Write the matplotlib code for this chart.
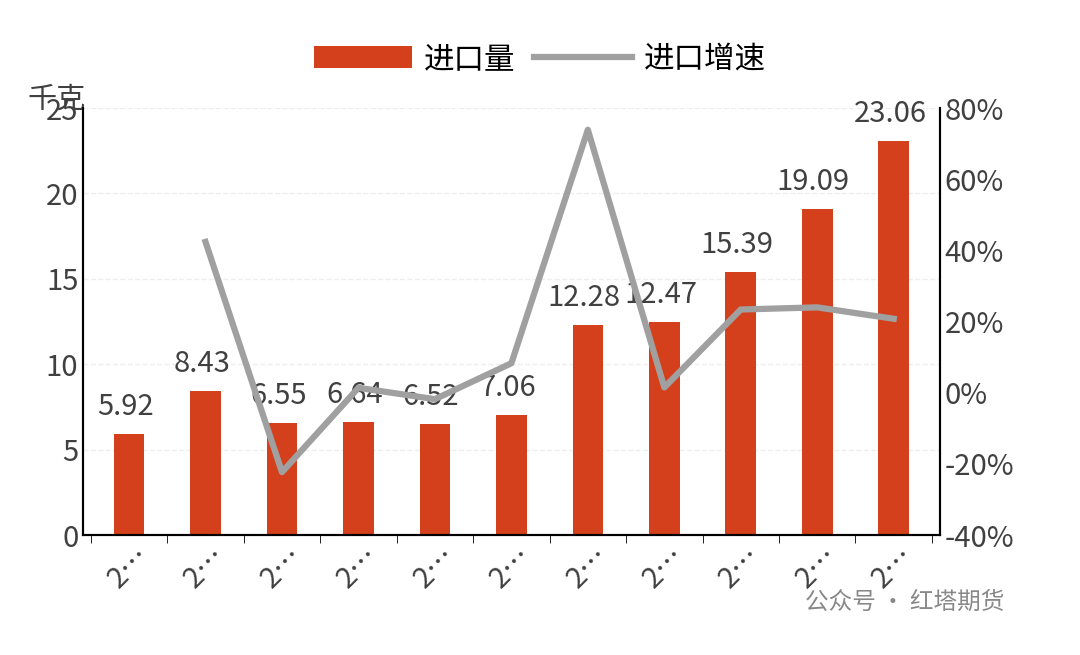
import matplotlib
matplotlib.use("Agg")
import matplotlib.pyplot as plt
from matplotlib.ticker import FuncFormatter

plt.rcParams['font.family'] = ['Noto Sans CJK SC', 'DejaVu Sans']

categories = ["2…"] * 11
imports = [5.92, 8.43, 6.55, 6.64, 6.52, 7.06, 12.28, 12.47, 15.39, 19.09, 23.06]
growth = [None, 42.4, -22.3, 1.4, -1.8, 8.3, 73.9, 1.5, 23.4, 24.0, 20.8]

fig = plt.figure(figsize=(10.8, 6.55), dpi=100)
ax = fig.add_axes([0.077, 0.183, 0.793, 0.652])
ax2 = ax.twinx()
x = list(range(len(imports)))
ax.bar(x, imports, width=0.4, color='#D5401C', label='进口量', zorder=2)
for xi, v in zip(x, imports):
    ax.text(xi - 0.05, v + 0.7, f"{v:.2f}", ha='center', va='bottom', fontsize=21,
            color='#404040', fontweight='light')
gx = [i for i, g in zip(x, growth) if g is not None]
gy = [g for g in growth if g is not None]
ax2.plot(gx, gy, color='#A0A0A0', lw=4.5, label='进口增速', zorder=3)

ax.set_ylim(0, 25)
ax.set_yticks([0, 5, 10, 15, 20, 25])
ax2.set_ylim(-40, 80)
ax2.set_yticks(range(-40, 81, 20))
ax2.yaxis.set_major_formatter(FuncFormatter(lambda v, p: f"{int(v)}%"))
ax.set_xlim(-0.6, 10.6)
ax.set_xticks(x)
ax.set_xticklabels(categories, rotation=45, fontsize=21, color='#404040')
for a in (ax, ax2):
    a.tick_params(labelsize=21, colors='#404040', length=0)
    a.spines['top'].set_visible(False)
    for s in ('left', 'right', 'bottom'):
        a.spines[s].set_color('black'); a.spines[s].set_linewidth(1.5)
ax.set_xticks([i + 0.5 for i in range(-1, 11)], minor=True)
ax.tick_params(axis='x', which='minor', length=6, color='black')
ax.tick_params(axis='x', which='major', length=0)
ax.grid(axis='y', color='#EEEEEE', ls='--', lw=1, zorder=0)
ax.text(-0.065, 1.02, "千克", transform=ax.transAxes, fontsize=21, color='#404040', va='center')

h1, l1 = ax.get_legend_handles_labels()
h2, l2 = ax2.get_legend_handles_labels()
fig.legend(h1 + h2, l1 + l2, loc='upper center', bbox_to_anchor=(0.5, 0.975), ncol=2,
           frameon=False, fontsize=22, handlelength=3.2, columnspacing=0.6, handletextpad=0.4)
fig.text(0.745, 0.07, "公众号 · 红塔期货", fontsize=17, color='#888888')
fig.savefig("out.png", dpi=100)
